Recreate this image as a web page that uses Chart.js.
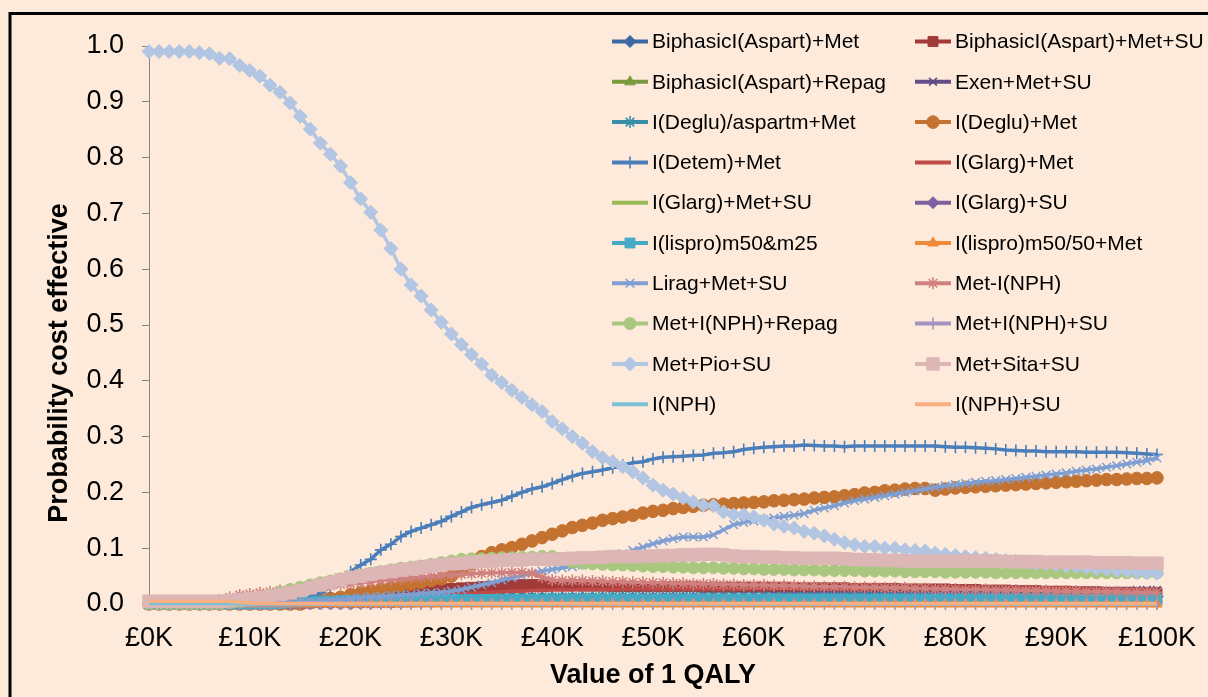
<!DOCTYPE html>
<html>
<head>
<meta charset="utf-8">
<title>CEAC</title>
<script src="https://cdn.jsdelivr.net/npm/chart.js@4.4.0/dist/chart.umd.min.js"></script>
<style>
  html, body { margin: 0; padding: 0; background: #FDEADA; }
  canvas { display: block; }
</style>
</head>
<body>
<canvas id="ceac" width="1208" height="697"></canvas>
<script>
// willingness to pay, £K per QALY
const qalyK = [
  0,1,2,3,4,5,6,7,8,9,
  10,11,12,13,14,15,16,17,18,19,
  20,21,22,23,24,25,26,27,28,29,
  30,31,32,33,34,35,36,37,38,39,
  40,41,42,43,44,45,46,47,48,49,
  50,51,52,53,54,55,56,57,58,59,
  60,61,62,63,64,65,66,67,68,69,
  70,71,72,73,74,75,76,77,78,79,
  80,81,82,83,84,85,86,87,88,89,
  90,91,92,93,94,95,96,97,98,99,
  100];

const bAspMet = [
  0,0,0,0,0,0,0,0,0,0,
  0,0,0,0,0,0.001,0.002,0.003,0.004,0.005,
  0.006,0.006,0.007,0.007,0.008,0.008,0.009,0.009,0.01,0.01,
  0.01,0.01,0.01,0.01,0.01,0.011,0.011,0.011,0.011,0.011,
  0.011,0.011,0.011,0.011,0.011,0.011,0.011,0.011,0.011,0.011,
  0.011,0.011,0.011,0.011,0.011,0.012,0.012,0.012,0.012,0.012,
  0.012,0.012,0.012,0.012,0.012,0.012,0.012,0.012,0.012,0.012,
  0.012,0.012,0.012,0.012,0.012,0.012,0.012,0.012,0.012,0.012,
  0.012,0.012,0.012,0.012,0.012,0.013,0.013,0.013,0.013,0.013,
  0.013,0.013,0.013,0.013,0.013,0.013,0.013,0.013,0.013,0.013,
  0.013];

const bAspMetSU = [
  0,0,0,0,0,0,0,0,0,0,
  0,0,0,0,0,0,0.002,0.004,0.006,0.008,
  0.01,0.012,0.014,0.016,0.018,0.02,0.021,0.023,0.025,0.026,
  0.028,0.029,0.03,0.031,0.032,0.033,0.034,0.035,0.035,0.035,
  0.034,0.033,0.033,0.032,0.032,0.032,0.031,0.031,0.031,0.031,
  0.031,0.031,0.031,0.031,0.031,0.03,0.03,0.03,0.03,0.03,
  0.03,0.03,0.03,0.03,0.029,0.029,0.029,0.029,0.029,0.029,
  0.028,0.028,0.028,0.028,0.028,0.027,0.027,0.027,0.027,0.027,
  0.026,0.026,0.026,0.025,0.025,0.025,0.024,0.024,0.024,0.023,
  0.023,0.023,0.022,0.022,0.022,0.021,0.021,0.021,0.02,0.02,
  0.02];

const bAspRepag = [
  0,0,0,0,0,0,0,0,0,0,
  0,0,0,0,0,0,0,0,0.001,0.002,
  0.003,0.003,0.004,0.004,0.005,0.005,0.006,0.006,0.007,0.007,
  0.008,0.008,0.008,0.008,0.008,0.008,0.008,0.008,0.008,0.008,
  0.008,0.008,0.008,0.008,0.008,0.009,0.009,0.009,0.009,0.009,
  0.009,0.009,0.009,0.009,0.009,0.009,0.009,0.009,0.009,0.009,
  0.009,0.009,0.009,0.009,0.009,0.009,0.009,0.009,0.009,0.009,
  0.009,0.009,0.009,0.009,0.009,0.009,0.009,0.009,0.009,0.009,
  0.009,0.009,0.009,0.009,0.009,0.009,0.009,0.009,0.009,0.009,
  0.009,0.009,0.009,0.009,0.009,0.009,0.009,0.009,0.009,0.009,
  0.009];

const exenMetSU = [
  0,0,0,0,0,0,0,0,0,0,
  0,0,0,0,0,0,0,0,0,0,
  0,0,0,0,0,0.001,0.001,0.002,0.002,0.003,
  0.003,0.004,0.004,0.005,0.005,0.006,0.006,0.007,0.007,0.008,
  0.008,0.008,0.009,0.009,0.01,0.01,0.01,0.011,0.011,0.012,
  0.012,0.012,0.013,0.013,0.013,0.014,0.014,0.014,0.015,0.015,
  0.015,0.015,0.016,0.016,0.016,0.016,0.017,0.017,0.017,0.017,
  0.017,0.018,0.018,0.018,0.018,0.019,0.019,0.019,0.019,0.019,
  0.02,0.02,0.02,0.02,0.021,0.021,0.021,0.021,0.022,0.022,
  0.022,0.022,0.023,0.023,0.023,0.024,0.024,0.024,0.025,0.025,
  0.025];

const degluAspMet = [
  0,0,0,0,0,0,0,0,0,0,
  0,0,0,0.001,0.002,0.003,0.004,0.005,0.006,0.007,
  0.007,0.008,0.008,0.009,0.009,0.01,0.01,0.011,0.011,0.011,
  0.012,0.012,0.012,0.012,0.012,0.013,0.013,0.013,0.013,0.013,
  0.013,0.013,0.013,0.013,0.013,0.014,0.014,0.014,0.014,0.014,
  0.014,0.014,0.014,0.014,0.014,0.014,0.014,0.014,0.014,0.014,
  0.014,0.014,0.014,0.014,0.014,0.014,0.014,0.014,0.014,0.014,
  0.014,0.014,0.014,0.014,0.014,0.014,0.014,0.014,0.014,0.014,
  0.014,0.014,0.014,0.014,0.014,0.014,0.014,0.014,0.014,0.014,
  0.014,0.014,0.014,0.014,0.014,0.014,0.014,0.014,0.014,0.014,
  0.014];

const degluMet = [
  0,0,0,0,0,0,0,0,0,0,
  0,0,0,0,0,0,0.003,0.008,0.01,0.012,
  0.017,0.02,0.023,0.026,0.03,0.033,0.036,0.039,0.042,0.045,
  0.05,0.06,0.072,0.085,0.092,0.097,0.101,0.107,0.113,0.119,
  0.125,0.131,0.137,0.141,0.145,0.15,0.153,0.156,0.159,0.163,
  0.166,0.168,0.171,0.173,0.175,0.177,0.178,0.179,0.18,0.181,
  0.182,0.183,0.185,0.186,0.187,0.188,0.19,0.191,0.192,0.194,
  0.196,0.199,0.2,0.203,0.204,0.206,0.207,0.207,0.204,0.206,
  0.208,0.209,0.21,0.211,0.212,0.213,0.214,0.215,0.216,0.217,
  0.218,0.219,0.22,0.221,0.222,0.223,0.223,0.224,0.225,0.225,
  0.226];

const detemMet = [
  0,0,0,0,0,0,0,0,0,0,
  0,0,0,0.002,0.004,0.008,0.013,0.02,0.03,0.043,
  0.058,0.07,0.08,0.097,0.107,0.121,0.13,0.136,0.142,0.148,
  0.157,0.165,0.173,0.178,0.182,0.186,0.193,0.2,0.206,0.21,
  0.216,0.223,0.229,0.234,0.237,0.24,0.244,0.249,0.253,0.255,
  0.26,0.263,0.264,0.265,0.266,0.267,0.27,0.271,0.273,0.277,
  0.279,0.281,0.282,0.283,0.283,0.285,0.284,0.283,0.283,0.282,
  0.283,0.283,0.283,0.283,0.283,0.283,0.283,0.283,0.283,0.282,
  0.281,0.281,0.28,0.279,0.278,0.276,0.275,0.274,0.274,0.273,
  0.273,0.273,0.273,0.272,0.272,0.272,0.272,0.271,0.27,0.269,
  0.268];

const glargMet = [
  0,0,0,0,0,0,0,0,0,0,
  0,0,0,0,0,0,0,0,0,0.001,
  0.002,0.004,0.005,0.007,0.008,0.01,0.011,0.013,0.014,0.016,
  0.017,0.018,0.019,0.02,0.021,0.022,0.023,0.023,0.024,0.024,
  0.025,0.025,0.025,0.026,0.026,0.026,0.026,0.027,0.027,0.027,
  0.027,0.027,0.027,0.027,0.027,0.027,0.027,0.027,0.027,0.027,
  0.028,0.028,0.028,0.028,0.028,0.028,0.028,0.028,0.028,0.028,
  0.028,0.028,0.028,0.028,0.028,0.028,0.028,0.028,0.028,0.028,
  0.027,0.027,0.027,0.027,0.027,0.027,0.027,0.027,0.027,0.027,
  0.026,0.026,0.026,0.026,0.026,0.026,0.026,0.026,0.026,0.026,
  0.026];

const glargMetSU = [
  0,0,0,0,0,0,0,0,0,0,
  0,0,0,0,0,0,0,0,0,0.001,
  0.002,0.003,0.004,0.005,0.006,0.007,0.008,0.008,0.009,0.01,
  0.011,0.011,0.011,0.011,0.012,0.012,0.012,0.012,0.012,0.012,
  0.012,0.012,0.012,0.012,0.012,0.012,0.012,0.012,0.012,0.012,
  0.012,0.012,0.012,0.012,0.012,0.012,0.012,0.012,0.012,0.012,
  0.012,0.012,0.012,0.012,0.012,0.012,0.012,0.012,0.012,0.012,
  0.012,0.012,0.012,0.012,0.012,0.012,0.012,0.012,0.012,0.012,
  0.012,0.012,0.012,0.012,0.012,0.012,0.012,0.012,0.012,0.012,
  0.012,0.012,0.012,0.012,0.012,0.012,0.012,0.012,0.012,0.012,
  0.012];

const glargSU = [
  0,0,0,0,0,0,0,0,0,0,
  0,0,0,0,0,0,0,0,0,0,
  0,0.001,0.001,0.002,0.002,0.002,0.003,0.003,0.003,0.004,
  0.004,0.004,0.005,0.005,0.005,0.006,0.006,0.006,0.007,0.007,
  0.007,0.008,0.008,0.008,0.008,0.009,0.009,0.009,0.009,0.01,
  0.01,0.01,0.01,0.01,0.01,0.01,0.01,0.01,0.01,0.01,
  0.01,0.01,0.011,0.011,0.011,0.011,0.011,0.011,0.011,0.011,
  0.011,0.011,0.011,0.011,0.011,0.012,0.012,0.012,0.012,0.012,
  0.012,0.012,0.012,0.012,0.012,0.012,0.012,0.012,0.012,0.012,
  0.012,0.012,0.012,0.012,0.012,0.013,0.013,0.013,0.013,0.013,
  0.013];

const lisproM50M25 = [
  0,0,0,0,0,0,0,0,0,0,
  0,0,0,0.001,0.002,0.004,0.004,0.005,0.005,0.006,
  0.006,0.006,0.006,0.007,0.007,0.007,0.007,0.007,0.008,0.008,
  0.008,0.008,0.008,0.008,0.008,0.008,0.008,0.008,0.008,0.008,
  0.009,0.009,0.009,0.009,0.009,0.009,0.009,0.009,0.009,0.009,
  0.009,0.009,0.009,0.009,0.009,0.009,0.009,0.009,0.009,0.009,
  0.009,0.009,0.009,0.009,0.009,0.009,0.009,0.009,0.009,0.009,
  0.009,0.009,0.009,0.009,0.009,0.009,0.009,0.009,0.009,0.009,
  0.009,0.009,0.009,0.009,0.009,0.009,0.009,0.009,0.009,0.009,
  0.009,0.009,0.009,0.009,0.009,0.009,0.009,0.009,0.009,0.009,
  0.009];

const lispro5050Met = [
  0,0,0,0,0,0,0,0,0,0,
  0,0,0,0,0,0,0,0,0,0,
  0,0,0,0,0,0,0,0,0,0,
  0,0,0,0,0,0,0,0,0,0,
  0,0,0,0,0,0,0,0,0,0,
  0,0,0,0,0,0,0,0,0,0,
  0,0,0,0,0,0,0,0,0,0,
  0,0,0,0,0,0,0,0,0,0,
  0,0,0,0,0,0,0,0,0,0,
  0,0,0,0,0,0,0,0,0,0,
  0];

const liragMetSU = [
  0,0,0,0,0,0,0,0,0,0,
  0,0,0,0.001,0.002,0.003,0.004,0.005,0.007,0.008,
  0.01,0.012,0.013,0.014,0.015,0.016,0.017,0.019,0.02,0.021,
  0.023,0.026,0.03,0.034,0.038,0.043,0.047,0.051,0.055,0.059,
  0.062,0.065,0.067,0.07,0.074,0.079,0.085,0.09,0.096,0.102,
  0.108,0.113,0.117,0.12,0.12,0.12,0.124,0.133,0.142,0.146,
  0.149,0.151,0.154,0.157,0.159,0.162,0.168,0.172,0.176,0.181,
  0.185,0.188,0.191,0.194,0.197,0.2,0.203,0.206,0.209,0.212,
  0.214,0.216,0.218,0.22,0.221,0.223,0.225,0.227,0.229,0.231,
  0.233,0.235,0.238,0.24,0.242,0.245,0.248,0.251,0.254,0.257,
  0.262];

const metNph = [
  0,0,0,0,0,0,0.003,0.007,0.012,0.016,
  0.018,0.02,0.022,0.024,0.026,0.028,0.03,0.031,0.033,0.035,
  0.036,0.038,0.04,0.042,0.044,0.045,0.047,0.048,0.05,0.051,
  0.052,0.053,0.054,0.055,0.056,0.056,0.057,0.057,0.055,0.048,
  0.043,0.042,0.042,0.042,0.041,0.041,0.04,0.04,0.039,0.039,
  0.038,0.038,0.037,0.037,0.036,0.036,0.036,0.035,0.035,0.034,
  0.034,0.034,0.033,0.033,0.033,0.032,0.032,0.031,0.031,0.031,
  0.03,0.03,0.03,0.029,0.029,0.029,0.028,0.028,0.027,0.027,
  0.027,0.026,0.026,0.026,0.025,0.025,0.025,0.024,0.024,0.024,
  0.023,0.023,0.023,0.022,0.022,0.022,0.022,0.021,0.021,0.021,
  0.021];

const metNphRepag = [
  0,0,0,0,0,0,0,0,0.002,0.004,
  0.006,0.011,0.016,0.021,0.026,0.03,0.034,0.038,0.041,0.045,
  0.049,0.052,0.055,0.058,0.061,0.064,0.066,0.068,0.071,0.074,
  0.077,0.08,0.081,0.081,0.082,0.083,0.083,0.084,0.084,0.085,
  0.085,0.08,0.075,0.073,0.072,0.071,0.07,0.07,0.069,0.068,
  0.067,0.067,0.066,0.066,0.065,0.065,0.065,0.064,0.064,0.063,
  0.063,0.062,0.062,0.062,0.061,0.061,0.061,0.06,0.06,0.06,
  0.06,0.059,0.059,0.059,0.059,0.058,0.058,0.058,0.058,0.057,
  0.057,0.057,0.057,0.057,0.056,0.056,0.056,0.056,0.056,0.056,
  0.056,0.056,0.056,0.056,0.056,0.056,0.056,0.056,0.056,0.056,
  0.056];

const metNphSU = [
  0,0,0,0,0,0,0,0,0,0,
  0,0,0,0,0,0,0,0,0,0,
  0,0,0,0,0,0,0,0,0,0,
  0,0,0,0,0,0,0,0,0,0,
  0,0,0,0,0,0,0,0,0,0,
  0,0,0,0,0,0,0,0,0,0,
  0,0,0,0,0,0,0,0,0,0,
  0,0,0,0,0,0,0,0,0,0,
  0,0,0,0,0,0,0,0,0,0,
  0,0,0,0,0,0,0,0,0,0,
  0];

const metPioSU = [
  0.99,0.99,0.99,0.99,0.99,0.988,0.986,0.978,0.977,0.965,
  0.956,0.946,0.93,0.917,0.898,0.874,0.851,0.826,0.806,0.785,
  0.755,0.726,0.702,0.67,0.637,0.6,0.572,0.552,0.527,0.505,
  0.484,0.465,0.447,0.43,0.41,0.397,0.383,0.37,0.357,0.345,
  0.327,0.314,0.3,0.288,0.273,0.262,0.255,0.246,0.237,0.226,
  0.213,0.204,0.197,0.19,0.183,0.177,0.176,0.165,0.16,0.16,
  0.156,0.15,0.143,0.139,0.136,0.13,0.127,0.122,0.116,0.11,
  0.106,0.103,0.103,0.1,0.1,0.097,0.096,0.095,0.091,0.089,
  0.087,0.085,0.083,0.082,0.08,0.078,0.077,0.075,0.073,0.072,
  0.07,0.068,0.067,0.065,0.063,0.062,0.06,0.059,0.057,0.056,
  0.055];

const metSitaSU = [
  0.005,0.005,0.005,0.005,0.005,0.005,0.005,0.005,0.006,0.008,
  0.01,0.012,0.014,0.017,0.02,0.024,0.029,0.034,0.038,0.043,
  0.047,0.05,0.053,0.056,0.058,0.061,0.063,0.066,0.068,0.07,
  0.072,0.073,0.075,0.076,0.077,0.078,0.079,0.079,0.08,0.08,
  0.08,0.081,0.082,0.083,0.083,0.084,0.085,0.085,0.085,0.085,
  0.086,0.087,0.087,0.088,0.088,0.089,0.089,0.088,0.086,0.085,
  0.085,0.084,0.084,0.083,0.083,0.082,0.082,0.082,0.082,0.081,
  0.08,0.079,0.079,0.078,0.078,0.077,0.077,0.077,0.077,0.077,
  0.077,0.077,0.077,0.077,0.077,0.076,0.076,0.076,0.076,0.075,
  0.075,0.075,0.075,0.075,0.074,0.074,0.074,0.074,0.073,0.073,
  0.073];

const nph = [
  0.001,0.001,0.001,0.001,0.001,0.001,0.001,0.001,0.001,0,
  0,0,0,0,0,0,0,0,0,0,
  0,0,0,0,0,0,0,0,0,0,
  0,0,0,0,0,0,0,0,0,0,
  0,0,0,0,0,0,0,0,0,0,
  0,0,0,0,0,0,0,0,0,0,
  0,0,0,0,0,0,0,0,0,0,
  0,0,0,0,0,0,0,0,0,0,
  0,0,0,0,0,0,0,0,0,0,
  0,0,0,0,0,0,0,0,0,0,
  0];

const nphSU = [
  0.005,0.005,0.005,0.005,0.005,0.005,0.005,0.005,0.005,0.003,
  0.002,0.001,0.001,0.001,0.001,0.001,0.001,0.001,0.001,0.001,
  0.001,0.001,0.001,0.001,0.001,0.001,0.001,0.001,0.001,0.001,
  0.001,0.001,0.001,0.001,0.001,0.001,0.001,0.001,0.001,0.001,
  0.001,0.001,0.001,0.001,0.001,0.001,0.001,0.001,0.001,0.001,
  0.001,0.001,0.001,0.001,0.001,0.001,0.001,0.001,0.001,0.001,
  0.001,0.001,0.001,0.001,0.001,0.001,0.001,0.001,0.001,0.001,
  0.001,0.001,0.001,0.001,0.001,0.001,0.001,0.001,0.001,0.001,
  0.001,0.001,0.001,0.001,0.001,0.001,0.001,0.001,0.001,0.001,
  0.001,0.001,0.001,0.001,0.001,0.001,0.001,0.001,0.001,0.001,
  0.001];

const seriesNames = [
  'BiphasicI(Aspart)+Met', 'BiphasicI(Aspart)+Met+SU',
  'BiphasicI(Aspart)+Repag', 'Exen+Met+SU',
  'I(Deglu)/aspartm+Met', 'I(Deglu)+Met',
  'I(Detem)+Met', 'I(Glarg)+Met',
  'I(Glarg)+Met+SU', 'I(Glarg)+SU',
  'I(lispro)m50&m25', 'I(lispro)m50/50+Met',
  'Lirag+Met+SU', 'Met-I(NPH)',
  'Met+I(NPH)+Repag', 'Met+I(NPH)+SU',
  'Met+Pio+SU', 'Met+Sita+SU',
  'I(NPH)', 'I(NPH)+SU'
];

const seriesValues = [
  bAspMet, bAspMetSU, bAspRepag, exenMetSU, degluAspMet, degluMet,
  detemMet, glargMet, glargMetSU, glargSU, lisproM50M25, lispro5050Met,
  liragMetSU, metNph, metNphRepag, metNphSU, metPioSU, metSitaSU,
  nph, nphSU
];

// look of each series: colour, marker shape, marker radius
const looks = [
  ['#3D69A3', 'rectRot', 6],
  ['#A23B38', 'rect', 7],
  ['#7B9A3E', 'triangle', 6],
  ['#634C88', 'crossRot', 5.5],
  ['#3890A8', 'star', 6],
  ['#C4722F', 'circle', 6.3],
  ['#4A7EBB', 'cross', 6],
  ['#BE4B48', false, 0],
  ['#98B954', false, 0],
  ['#7D60A0', 'rectRot', 6],
  ['#46AAC5', 'rect', 7],
  ['#F18A36', 'triangle', 6],
  ['#7F9FD3', 'crossRot', 6],
  ['#D0807E', 'star', 6],
  ['#AAC780', 'circle', 6],
  ['#A493C0', 'cross', 6],
  ['#B2C5E3', 'rectRot', 7],
  ['#DDB6B6', 'rect', 8.8],
  ['#7CC2D7', false, 0],
  ['#F8AE80', false, 0]
];

const FONT = '"Liberation Sans", Arial, Helvetica, sans-serif';
Chart.defaults.font.family = FONT;
Chart.defaults.color = '#000';

const datasets = seriesValues.map((vals, i) => {
  const [col, shape, r] = looks[i];
  const stroked = shape === 'cross' || shape === 'crossRot' || shape === 'star';
  return {
    label: seriesNames[i],
    data: vals,
    borderColor: col,
    backgroundColor: col,
    borderWidth: 3.5,
    pointStyle: shape,
    pointRadius: shape ? r : 0,
    pointBackgroundColor: col,
    pointBorderColor: col,
    pointBorderWidth: stroked ? 1.6 : 1,
    tension: 0,
    clip: false,
    order: seriesValues.length - i
  };
});

const pageBg = {
  id: 'pageBg',
  beforeDraw(chart) {
    const c = chart.ctx;
    c.save();
    c.fillStyle = '#FDEADA';
    c.fillRect(0, 0, chart.width, chart.height);
    c.strokeStyle = '#000';
    c.lineWidth = 3;
    c.strokeRect(10, 13.5, chart.width + 10, chart.height + 10);
    c.restore();
  }
};

const yTitle = {
  id: 'yTitle',
  afterDraw(chart) {
    const c = chart.ctx;
    c.save();
    c.translate(60, 363);
    c.rotate(-Math.PI / 2);
    c.font = 'bold 27px ' + FONT;
    c.fillStyle = '#000';
    c.textAlign = 'center';
    c.textBaseline = 'middle';
    c.fillText('Probability cost effective', 0, 0);
    c.restore();
  }
};

// two-column legend inside the plot, like the original
const gridLegend = {
  id: 'gridLegend',
  afterDraw(chart) {
    const c = chart.ctx;
    c.save();
    c.font = '21px ' + FONT;
    c.textBaseline = 'middle';
    chart.data.datasets.forEach((ds, i) => {
      const x0 = i % 2 ? 915 : 612;
      const y = 41.5 + Math.floor(i / 2) * 40.3;
      c.strokeStyle = ds.borderColor;
      c.lineWidth = 4;
      c.beginPath();
      c.moveTo(x0, y);
      c.lineTo(x0 + 36, y);
      c.stroke();
      if (ds.pointStyle) {
        c.fillStyle = ds.borderColor;
        c.lineWidth = ds.pointBorderWidth;
        Chart.helpers.drawPoint(c, {
          pointStyle: ds.pointStyle,
          radius: ds.pointRadius,
          rotation: 0,
          borderWidth: ds.pointBorderWidth
        }, x0 + 18, y);
      }
      c.fillStyle = '#000';
      c.fillText(ds.label, x0 + 40, y + 1);
    });
    c.restore();
  }
};

new Chart(document.getElementById('ceac'), {
  type: 'line',
  data: { labels: qalyK, datasets: datasets },
  options: {
    responsive: false,
    animation: false,
    devicePixelRatio: 1,
    layout: { padding: { left: 0, top: 46, right: 51, bottom: 0 } },
    plugins: { legend: { display: false }, tooltip: { enabled: false } },
    scales: {
      x: {
        type: 'linear',
        min: 0,
        max: 100,
        ticks: {
          stepSize: 10,
          padding: 12,
          font: { size: 27 },
          color: '#000',
          maxRotation: 0,
          callback: v => '£' + v + 'K'
        },
        grid: { drawOnChartArea: false, tickLength: 6, color: '#868686' },
        border: { color: '#868686', width: 1 },
        title: {
          display: true,
          text: 'Value of 1 QALY',
          font: { size: 27, weight: 'bold' },
          color: '#000',
          padding: { top: 0, bottom: 5 }
        },
        afterFit(s) { s.height = 93; }
      },
      y: {
        min: 0,
        max: 1,
        ticks: {
          stepSize: 0.1,
          padding: 18,
          font: { size: 27 },
          color: '#000',
          callback: v => v.toFixed(1)
        },
        grid: { drawOnChartArea: false, tickLength: 7, color: '#868686' },
        border: { color: '#868686', width: 1 },
        afterFit(s) { s.width = 149; }
      }
    }
  },
  plugins: [pageBg, yTitle, gridLegend]
});
</script>
</body>
</html>
